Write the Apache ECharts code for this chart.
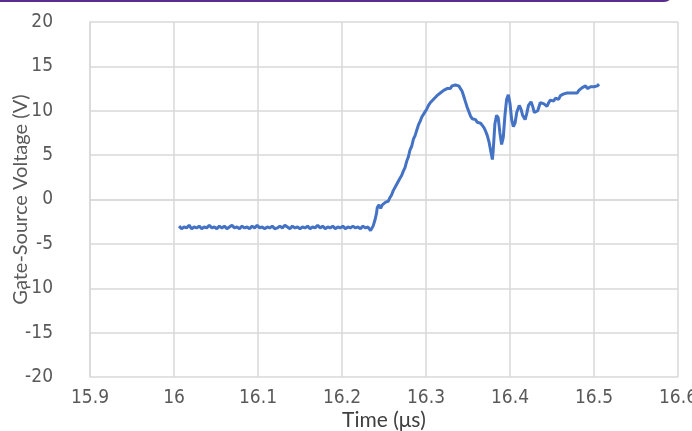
<!DOCTYPE html>
<html><head><meta charset="utf-8">
<script src="https://cdn.jsdelivr.net/npm/echarts@6/dist/echarts.min.js"></script>
<style>html,body{margin:0;padding:0;background:#fff}#c{width:692px;height:431px}</style>
</head><body><div id="c"></div>
<script>
const xTicks = [15.9, 16, 16.1, 16.2, 16.3, 16.4, 16.5, 16.6];
const yTicks = [-20, -15, -10, -5, 0, 5, 10, 15, 20];
const times = [
16.006,16.009,16.012,16.015,16.018,16.021,16.024,16.027,16.030,16.033,16.036,16.039,16.042,16.045,16.048,16.051,16.054,16.057,16.060,16.063,16.066,16.069,16.072,16.075,16.078,16.081,16.084,16.087,16.090,16.093,16.096,16.099,16.102,16.105,16.108,16.111,16.114,16.117,16.120,16.123,16.126,16.129,16.132,16.135,16.138,16.141,16.144,16.147,16.150,16.153,16.156,16.159,16.162,16.165,16.168,16.171,16.174,16.177,16.180,16.183,16.186,16.189,16.192,16.195,16.198,16.201,16.204,16.207,16.210,16.213,16.216,16.219,16.222,16.225,16.228,16.231,16.234,
16.237,16.239,16.241,16.242,16.244,16.246,16.248,16.250,16.252,16.255,16.257,16.259,16.261,16.263,16.265,16.267,16.269,16.271,16.273,16.275,16.277,16.279,16.281,16.283,16.285,16.287,16.289,16.291,16.293,16.295,16.297,16.299,16.301,16.303,16.305,16.307,16.309,16.311,16.313,16.315,16.317,16.319,16.321,16.323,16.325,16.327,16.329,16.331,16.333,16.335,16.337,16.339,16.341,16.343,16.345,16.347,16.349,16.351,16.353,16.355,16.357,16.359,16.361,16.363,16.365,16.367,16.369,16.371,16.373,16.375,16.377,16.379,16.380,16.382,16.384,16.386,16.388,16.390,16.392,16.394,16.396,16.398,16.400,16.402,16.404,16.406,16.408,16.411,16.413,16.415,16.418,16.420,16.422,16.425,16.427,16.429,16.431,16.433,16.436,16.438,16.440,16.442,16.444,16.446,16.448,16.450,16.452,16.454,16.456,16.458,16.460,16.462,16.464,16.466,16.468,16.470,16.472,16.474,16.476,16.478,16.480,16.482,16.484,16.486,16.488,16.490,16.492,16.494,16.496,16.498,16.500,16.502,16.504,16.506
];
const volts = [
-3.0,-3.3,-3.1,-3.2,-2.9,-3.3,-3.1,-3.2,-3.0,-3.3,
-3.1,-3.2,-2.9,-3.2,-3.1,-3.3,-3.0,-3.2,-3.0,-3.3,
-3.1,-2.9,-3.2,-3.1,-3.3,-3.0,-3.2,-3.1,-3.3,-3.0,
-3.2,-2.9,-3.2,-3.1,-3.3,-3.1,-3.2,-3.0,-3.3,-3.2,
-3.0,-3.2,-2.9,-3.1,-3.3,-3.0,-3.2,-3.1,-3.3,-3.1,
-3.2,-3.0,-3.3,-3.1,-3.2,-2.9,-3.2,-3.0,-3.3,-3.1,
-3.2,-3.0,-3.3,-3.1,-3.2,-3.0,-3.3,-3.1,-3.2,-3.0,
-3.2,-3.1,-3.3,-3.0,-3.2,-3.1,-3.5,
-3.0,-2.4,-1.6,-0.9,-0.6,-1.0,-0.6,-0.7,-0.3,-0.2,0.2,0.5,1.0,1.2,1.7,1.9,2.4,2.7,3.2,3.6,4.3,4.8,5.6,6.0,6.8,7.2,7.8,8.4,8.8,9.3,9.5,9.9,10.2,10.6,10.9,11.0,11.3,11.4,11.7,11.8,12.0,12.1,12.3,12.2,12.5,12.6,12.5,12.8,12.7,12.9,13.0,12.8,12.6,12.2,11.6,11.0,10.4,9.9,9.4,9.1,8.9,9.0,8.7,8.8,8.6,8.4,8.1,7.7,7.2,6.5,5.5,4.5,5.5,8.5,9.5,9.2,7.5,6.2,7.0,9.5,11.3,11.8,10.8,9.0,8.2,8.6,9.8,10.6,10.2,9.5,9.0,9.7,10.6,11.0,10.5,9.8,9.6,10.0,10.9,11.0,10.8,10.6,10.5,10.9,11.2,11.3,11.1,11.4,11.5,11.3,11.7,11.8,11.9,11.7,12.0,11.8,12.0,12.2,12.0,12.1,12.0,12.3,12.4,12.6,12.7,12.8,12.5,12.6,12.7,12.5,12.7,12.6,12.8,13.0
];
const xName = 'Time (μs)';
const yName = 'Gate-Source Voltage (V)';

const chart = echarts.init(document.getElementById('c'));
const font = 'Lato, "Open Sans", sans-serif';
const tickFont = '"Liberation Sans Narrow", "DejaVu Sans Condensed", sans-serif';
chart.setOption({
  animation: false,
  grid: {left: 90, right: 14, top: 22, bottom: 54, containLabel: false, outerBoundsMode: 'none'},
  xAxis: {
    type: 'value', min: xTicks[0], max: xTicks[xTicks.length-1], interval: 0.1,
    name: xName, nameLocation: 'middle', nameGap: 33, nameMoveOverlap: false,
    nameTextStyle: {fontFamily: font, fontSize: 21, color: '#404040'},
    axisLine: {show: true, lineStyle: {color: '#d9d9d9', width: 1.5}},
    axisTick: {show: false},
    splitLine: {show: true, lineStyle: {color: '#d9d9d9', width: 1.5}},
    axisLabel: {margin: 12, fontFamily: tickFont, fontSize: 19, color: '#595959',
      formatter: v => String(parseFloat(v.toFixed(1)))}
  },
  yAxis: {
    type: 'value', min: yTicks[0], max: yTicks[yTicks.length-1], interval: 5,
    name: yName, nameLocation: 'middle', nameGap: 59, nameMoveOverlap: false,
    nameTextStyle: {fontFamily: font, fontSize: 20, color: '#595959'},
    axisLine: {show: true, lineStyle: {color: '#d9d9d9', width: 1.5}},
    axisTick: {show: false},
    splitLine: {show: true, lineStyle: {color: '#d9d9d9', width: 1.5}},
    axisLabel: {margin: 37, fontFamily: tickFont, fontSize: 19, color: '#595959'}
  },
  series: [{
    type: 'line', showSymbol: false, symbol: 'none',
    data: times.map((t, i) => [t, volts[i]]),
    lineStyle: {color: '#4472c4', width: 3}
  }],
  graphic: [{
    type: 'rect', shape: {x: -20, y: -40, width: 692, height: 41, r: 8},
    style: {fill: 'none', stroke: '#5b2d8e', lineWidth: 2}
  }]
});
</script></body></html>
